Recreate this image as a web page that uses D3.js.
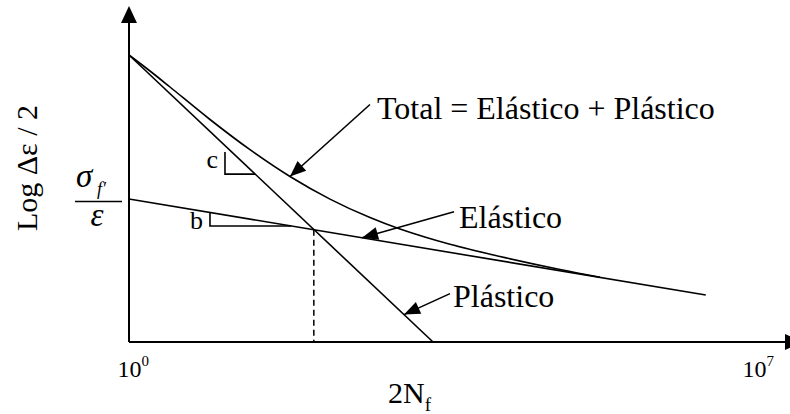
<!DOCTYPE html>
<html>
<head>
<meta charset="utf-8">
<script src="https://cdn.jsdelivr.net/npm/d3@7"></script>
<style>
  html, body { margin: 0; padding: 0; background: #fff; }
  svg { display: block; }
  text { font-family: "Liberation Serif", "Times New Roman", serif; fill: #000; }
</style>
</head>
<body>
<svg id="chart" width="790" height="414"></svg>
<script>
// Strain-life (Coffin-Manson / Basquin) schematic.
// x: log10(2Nf) reversals to failure, y: log10(Δε/2)
const lifeExponents = [0, 7];

// elastic (Basquin) and plastic (Coffin-Manson) straight lines in log-log space
const elasticLine = [{ x: 0, y: -2.57 }, { x: 6.46, y: -3.53 }];
const plasticLine = [{ x: 0, y: -1.13 }, { x: 3.405, y: -4.0 }];

// total strain curve = elastic + plastic
const totalCurve = [
  { x: 0.0,   y: -1.13 },
  { x: 0.235, y: -1.29 },
  { x: 0.459, y: -1.45 },
  { x: 0.907, y: -1.775 },
  { x: 1.355, y: -2.077 },
  { x: 1.803, y: -2.345 },
  { x: 2.251, y: -2.571 },
  { x: 2.699, y: -2.756 },
  { x: 3.035, y: -2.87 },
  { x: 3.595, y: -3.023 },
  { x: 4.155, y: -3.145 },
  { x: 4.827, y: -3.275 },
  { x: 5.275, y: -3.352 }
];

// transition life where elastic and plastic lines cross
const transitionLife = [2.07];

// slope markers: x of the bracket's vertical leg, gap below the line, rise
const slopeMarks = [
  { label: "c", line: "plastic", x: 1.075, gap: 0.065, rise: 0.22,  ly: -6 },
  { label: "b", line: "elastic", x: 0.907, gap: 0.0,   rise: 0.135, ly: 3 }
];

// callouts: curve, x where the arrow points, leader offset and text offset (px)
const callouts = [
  { text: "Total = Elástico + Plástico", curve: "total",   x: 1.803, dx: 80, dy: -72, tx: 7, ty: 14 },
  { text: "Elástico",                    curve: "elastic", x: 2.61,  dx: 92, dy: -26, tx: 5, ty: 16 },
  { text: "Plástico",                    curve: "plastic", x: 3.08,  dx: 46, dy: -21, tx: 3, ty: 13 }
];

const svg = d3.select("#chart");
const x = d3.scaleLinear().domain([0, 7]).range([129, 754]);
const y = d3.scaleLinear().domain([-4, -1]).range([342, 42]);

const origin = { x: x(0), y: y(-4) };

// evaluate a polyline at a given x (linear interpolation)
function valueAt(pts, xv) {
  for (let i = 0; i < pts.length - 1; i++) {
    const a = pts[i], b = pts[i + 1];
    if (xv >= a.x && xv <= b.x) {
      const t = (xv - a.x) / (b.x - a.x);
      return a.y + t * (b.y - a.y);
    }
  }
  return pts[pts.length - 1].y;
}
function xAtValue(pts, yv) {
  const a = pts[0], b = pts[1];
  return a.x + (yv - a.y) / (b.y - a.y) * (b.x - a.x);
}
const curves = { total: totalCurve, elastic: elasticLine, plastic: plasticLine };

// arrowhead marker
const defs = svg.append("defs");
defs.append("marker")
  .attr("id", "head")
  .attr("markerUnits", "userSpaceOnUse")
  .attr("viewBox", "-17 -7 18 14")
  .attr("refX", 0).attr("refY", 0)
  .attr("markerWidth", 18).attr("markerHeight", 14)
  .attr("orient", "auto")
  .append("path").attr("d", "M0,0 L-16,-6.5 L-16,6.5 Z").attr("fill", "#000");

// axes
svg.append("line")
  .attr("x1", origin.x).attr("y1", origin.y)
  .attr("x2", origin.x).attr("y2", 22)
  .attr("stroke", "#000").attr("stroke-width", 2);
svg.append("path")
  .attr("d", `M${origin.x},6 L${origin.x - 8},23 L${origin.x + 8},23 Z`)
  .attr("fill", "#000");
svg.append("line")
  .attr("x1", origin.x).attr("y1", origin.y)
  .attr("x2", 786).attr("y2", origin.y)
  .attr("stroke", "#000").attr("stroke-width", 2);
svg.append("path")
  .attr("d", `M802,${origin.y} L785,${origin.y - 8} L785,${origin.y + 8} Z`)
  .attr("fill", "#000");

// tick labels 10^n
lifeExponents.forEach(e => {
  const t = svg.append("text")
    .attr("x", x(e) - 11.5).attr("y", 377)
    .attr("font-size", 24);
  t.append("tspan").text("10");
  t.append("tspan").attr("dy", -11).attr("font-size", 15).text(e);
});

// x-axis title 2N_f
const xt = svg.append("text").attr("x", 388).attr("y", 403).attr("font-size", 30);
xt.append("tspan").text("2N");
xt.append("tspan").attr("dy", 8).attr("font-size", 19).text("f");

// y-axis title
svg.append("text")
  .attr("transform", "translate(37,168) rotate(-90)")
  .attr("text-anchor", "middle")
  .attr("font-size", 30)
  .text("Log Δε / 2");

// σf' / ε at the elastic intercept
const frac = svg.append("g");
frac.append("text").attr("x", 76).attr("y", 187)
  .attr("font-size", 33).attr("font-style", "italic").text("σ");
frac.append("text").attr("x", 97).attr("y", 195)
  .attr("font-size", 18).attr("font-style", "italic").text("f′");
frac.append("line")
  .attr("x1", 75).attr("x2", 122).attr("y1", 201.5).attr("y2", 201.5)
  .attr("stroke", "#000").attr("stroke-width", 1.3);
frac.append("text").attr("x", 97).attr("y", 226).attr("text-anchor", "middle")
  .attr("font-size", 33).attr("font-style", "italic").text("ε");

const line = d3.line().x(d => x(d.x)).y(d => y(d.y));

// elastic and plastic lines
svg.append("path").datum(elasticLine).attr("d", line)
  .attr("fill", "none").attr("stroke", "#000").attr("stroke-width", 1.6);
svg.append("path").datum(plasticLine).attr("d", line)
  .attr("fill", "none").attr("stroke", "#000").attr("stroke-width", 1.6);

// total curve
svg.append("path").datum(totalCurve)
  .attr("d", d3.line().x(d => x(d.x)).y(d => y(d.y)).curve(d3.curveCatmullRom.alpha(0.5)))
  .attr("fill", "none").attr("stroke", "#000").attr("stroke-width", 1.6);

// transition life dashed drop line
transitionLife.forEach(t => {
  svg.append("line")
    .attr("x1", x(t)).attr("x2", x(t))
    .attr("y1", y(valueAt(elasticLine, t))).attr("y2", origin.y)
    .attr("stroke", "#000").attr("stroke-width", 1.5)
    .attr("stroke-dasharray", "6,4");
});

// slope brackets
slopeMarks.forEach(m => {
  const pts = curves[m.line];
  const yTop = valueAt(pts, m.x) - m.gap;
  const yBot = yTop - m.rise;
  const xEnd = xAtValue(pts, yBot);
  svg.append("path")
    .attr("d", `M${x(m.x)},${y(yTop)} L${x(m.x)},${y(yBot)} L${x(xEnd)},${y(yBot)}`)
    .attr("fill", "none").attr("stroke", "#000").attr("stroke-width", 1.6);
  svg.append("text")
    .attr("x", x(m.x) - 7).attr("y", y(yBot) + m.ly)
    .attr("text-anchor", "end")
    .attr("font-size", 26).text(m.label);
});

// callouts with arrows
callouts.forEach(c => {
  const tipX = x(c.x);
  const tipY = y(valueAt(curves[c.curve], c.x));
  const sx = tipX + c.dx, sy = tipY + c.dy;
  svg.append("line")
    .attr("x1", sx).attr("y1", sy).attr("x2", tipX).attr("y2", tipY)
    .attr("stroke", "#000").attr("stroke-width", 1.6)
    .attr("marker-end", "url(#head)");
  svg.append("text")
    .attr("x", sx + c.tx).attr("y", sy + c.ty)
    .attr("font-size", 32).text(c.text);
});
</script>
</body>
</html>
